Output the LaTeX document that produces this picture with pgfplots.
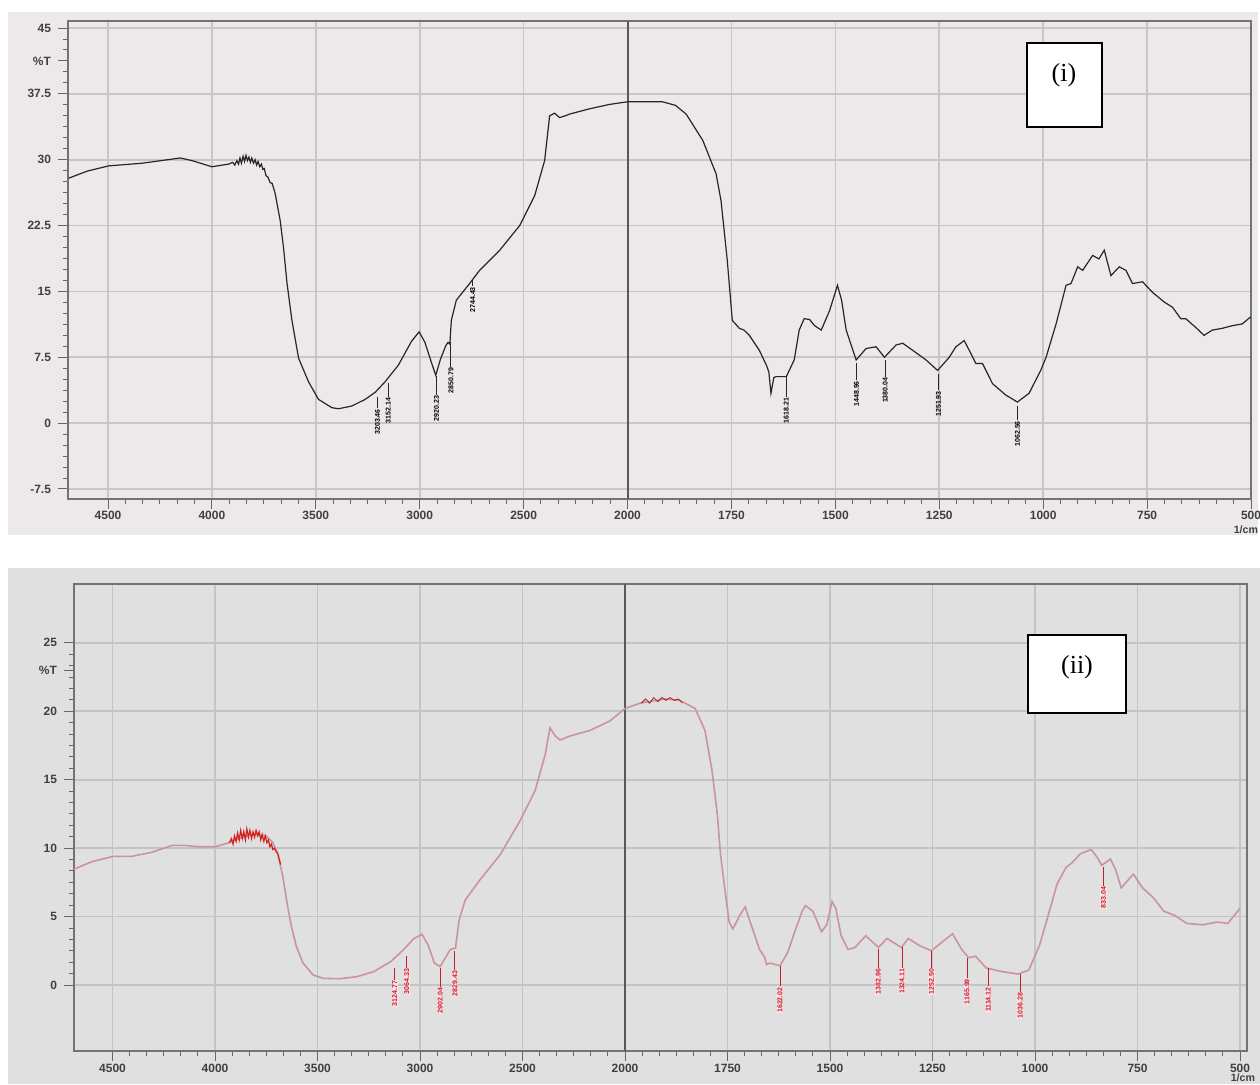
\documentclass[border=0pt]{standalone}
\usepackage{pgfplots}
\pgfplotsset{compat=1.18}
\usepackage{pgfplotstable}
\usepackage{fontspec}
\setmainfont{Liberation Serif}
\setsansfont{Liberation Sans}

\definecolor{bgA}{HTML}{EDE9EB}
\definecolor{bgB}{HTML}{E0E0E0}
\definecolor{gridA}{HTML}{C9C5C7}
\definecolor{gridB}{HTML}{C4C4C4}
\definecolor{specB}{HTML}{C9959D}
\definecolor{noiseB}{HTML}{D42020}
\definecolor{lblB}{HTML}{C02035}

% wavenumber -> axis position (500 cm-1 per unit above 2000, 250 cm-1 per unit below)
\newcommand{\ux}{(\thisrow{wn}>=2000 ? (2000-\thisrow{wn})/500 : (2000-\thisrow{wn})/250)}

\pgfplotstableread{
wn T
4689 27.9
4600 28.7
4497 29.3
4337 29.6
4152 30.2
4096 29.9
4000 29.2
3920 29.5
3900 29.7
3890 29.4
3880 29.9
3872 29.5
3865 30.2
3858 29.6
3850 30.4
3843 29.8
3836 30.5
3829 29.9
3822 30.3
3815 29.7
3808 30.2
3800 29.6
3792 30.0
3785 29.4
3778 29.8
3770 29.2
3762 29.5
3755 28.9
3748 29.0
3740 28.2
3730 28.0
3720 27.4
3710 27.3
3696 26.2
3671 23.0
3655 19.9
3639 16.0
3615 11.7
3583 7.4
3535 4.7
3487 2.7
3423 1.76
3391 1.64
3327 1.95
3263 2.7
3215 3.5
3167 4.7
3103 6.6
3040 9.3
3003 10.4
2975 9.2
2945 7.0
2923 5.45
2900 7.3
2875 8.8
2864 9.2
2855 9.0
2848 11.7
2824 14.0
2760 15.9
2712 17.4
2615 19.7
2519 22.5
2447 25.9
2399 29.9
2375 35.0
2351 35.3
2327 34.8
2300 35.0
2279 35.2
2183 35.8
2087 36.3
2000 36.6
1916 36.6
1885 36.2
1859 35.2
1819 32.2
1787 28.4
1775 25.3
1760 18.5
1748 11.7
1731 10.8
1720 10.6
1707 10.0
1683 8.3
1665 6.5
1660 5.8
1655 3.4
1648 5.2
1642 5.3
1618 5.3
1599 7.2
1587 10.6
1575 11.9
1562 11.8
1550 11.1
1534 10.6
1514 12.8
1495 15.7
1485 14.0
1474 10.6
1450 7.2
1426 8.5
1402 8.7
1382 7.5
1354 8.9
1338 9.1
1314 8.3
1282 7.2
1254 6.0
1226 7.5
1210 8.7
1190 9.4
1178 8.3
1162 6.8
1146 6.8
1122 4.5
1090 3.2
1062 2.4
1034 3.4
1006 6.0
993 7.5
969 11.3
945 15.7
933 15.9
917 17.8
905 17.4
881 19.1
866 18.7
853 19.7
837 16.8
817 17.8
801 17.4
785 15.9
761 16.1
737 14.9
709 13.8
689 13.2
669 11.9
657 11.9
633 10.9
613 10.0
593 10.6
569 10.8
545 11.1
521 11.3
501 12.1
}\specA

\pgfplotstableread{
wn T
4698 8.4
4603 9.0
4497 9.4
4406 9.4
4308 9.7
4210 10.2
4144 10.2
4079 10.1
4000 10.1
3931 10.4
3882 10.7
3816 11.0
3751 10.9
3718 10.4
3694 9.6
3669 7.9
3649 6.0
3628 4.3
3603 2.8
3571 1.6
3521 0.73
3472 0.49
3390 0.46
3308 0.61
3226 0.98
3144 1.7
3079 2.6
3030 3.4
2990 3.7
2960 2.9
2930 1.6
2902 1.35
2880 1.9
2852 2.6
2827 2.7
2810 4.7
2780 6.2
2707 7.7
2610 9.5
2512 12.0
2439 14.2
2390 16.8
2366 18.8
2341 18.2
2317 17.9
2268 18.2
2171 18.6
2073 19.3
2000 20.2
1963 20.6
1902 20.9
1866 20.8
1829 20.2
1805 18.6
1788 15.7
1775 12.5
1767 9.5
1754 6.4
1746 4.6
1737 4.1
1720 5.1
1707 5.7
1689 4.1
1672 2.6
1659 2.0
1655 1.5
1646 1.6
1622 1.4
1603 2.4
1586 3.9
1568 5.4
1560 5.8
1542 5.4
1521 3.9
1508 4.4
1495 6.1
1486 5.6
1473 3.6
1456 2.6
1439 2.75
1413 3.6
1382 2.75
1361 3.4
1326 2.75
1309 3.4
1283 2.9
1253 2.5
1222 3.25
1201 3.75
1179 2.6
1162 2.0
1145 2.1
1119 1.25
1084 1.0
1041 0.8
1015 1.1
989 2.9
963 5.6
946 7.4
924 8.6
911 8.9
889 9.6
863 9.9
850 9.4
837 8.75
816 9.2
803 8.4
790 7.1
760 8.1
738 7.1
712 6.4
686 5.4
660 5.1
630 4.5
591 4.4
556 4.6
530 4.5
500 5.6
}\specB

\pgfplotstableread{
wn T
3930 10.4
3920 10.7
3912 10.3
3905 10.9
3897 10.5
3890 11.1
3882 10.6
3875 11.3
3867 10.7
3860 11.2
3852 10.6
3845 11.4
3837 10.8
3830 11.3
3822 10.7
3815 11.2
3807 10.8
3800 11.3
3792 10.9
3785 11.2
3777 10.6
3770 11.0
3762 10.5
3755 10.9
3747 10.4
3740 10.6
3732 10.1
3725 10.3
3718 9.9
3710 10.0
3700 9.7
3694 9.6
3680 8.8
}\noiseBa

\pgfplotstableread{
wn T
1960 20.6
1950 20.9
1940 20.6
1930 21.0
1920 20.7
1910 21.0
1900 20.8
1890 21.0
1880 20.8
1870 20.9
1860 20.6
}\noiseBb

\newcommand{\tickfont}{\fontsize{6}{7}\selectfont\sffamily\bfseries}
\newcommand{\unitfont}{\fontsize{5.3}{6}\selectfont\sffamily\bfseries}
\newcommand{\pkfont}{\fontsize{3.5}{4}\selectfont\sffamily\bfseries}
% peak marker: u, top, end, label
\newcommand{\pkA}[4]{%
  \draw[black!85, line width=0.45pt] (axis cs:#1,#2) -- (axis cs:#1,#3);
  \node[rotate=90, anchor=east, inner sep=0.3pt, font=\pkfont, text=black] at (axis cs:#1,#3) {#4};}
\newcommand{\pkB}[4]{%
  \draw[lblB, line width=0.45pt] (axis cs:#1,#2) -- (axis cs:#1,#3);
  \node[rotate=90, anchor=east, inner sep=0.3pt, font=\pkfont, text=lblB, fill=pink!45] at (axis cs:#1,#3) {#4};}

\pgfplotsset{ftir/.style={
  scale only axis,
  xtick={-5,-4,-3,-2,-1,0,1,2,3,4,5,6},
  xticklabels={4500,4000,3500,3000,2500,2000,1750,1500,1250,1000,750,500},
  minor x tick num=5, minor y tick num=5,
  tick align=outside, major tick length=5pt, minor tick length=2.5pt,
  xtick pos=left, ytick pos=left,
  xmajorgrids, ymajorgrids,
  tick style={black!60, line width=0.5pt},
  ticklabel style={font=\tickfont, text=black!75},
  axis line style={black!55, line width=0.7pt},
}}

\begin{document}
\begin{tikzpicture}
\path[use as bounding box] (0,0) rectangle (630pt,542pt);
\fill[white] (0,0) rectangle (630pt,542pt);
\fill[bgA] (4pt,274.5pt) rectangle (629pt,536pt);
\fill[bgB] (4pt,0pt) rectangle (630pt,258pt);

% ---------- panel (i)
\begin{axis}[ftir,
  at={(34pt,292.5pt)}, anchor=south west,
  width=591.5pt, height=239pt,
  xmin=-5.385, xmax=6.0, ymin=-8.64, ymax=45.8,
  xticklabel style={yshift=2.5pt},
  ytick={-7.5,0,7.5,15,22.5,30,37.5,45},
  yticklabels={-7.5,0,7.5,15,22.5,30,37.5,45},
  extra y ticks={41.25}, extra y tick labels={\%T},
  extra y tick style={grid=none},
  major grid style={gridA, line width=0.8pt},
]
\draw[black!65, line width=1pt] (axis cs:0,-8.64) -- (axis cs:0,45.8);
\addplot[black!85, line width=0.6pt, no markers] table[x expr=\ux, y=T] {\specA};
\pkA{-2.406}{3.0}{1.7}{3203.46}
\pkA{-2.304}{4.6}{3.0}{3152.14}
\pkA{-1.84}{5.4}{3.2}{2920.23}
\pkA{-1.70}{9.2}{6.4}{2850.79}
\pkA{-1.49}{16.3}{15.6}{2744.43}
\pkA{1.528}{5.3}{3.0}{1618.21}
\pkA{2.204}{6.8}{4.9}{1448.96}
\pkA{2.48}{7.2}{5.3}{1380.04}
\pkA{2.992}{5.6}{3.75}{1251.93}
\pkA{3.752}{2.0}{0.34}{1062.56}
\end{axis}
\node[font=\unitfont, text=black!75, anchor=north east, inner sep=0.3pt] at (629.5pt,279.8pt) {1/cm};

% ---------- panel (ii)
\begin{axis}[ftir,
  at={(37pt,16.5pt)}, anchor=south west,
  width=586.5pt, height=233.5pt,
  xmin=-5.376, xmax=6.068, ymin=-4.82, ymax=29.3,
  xticklabel style={yshift=2pt},
  ytick={0,5,10,15,20,25},
  yticklabels={0,5,10,15,20,25},
  extra y ticks={23.0}, extra y tick labels={\%T},
  extra y tick style={grid=none},
  major grid style={gridB, line width=0.8pt},
]
\draw[black!65, line width=1pt] (axis cs:0,-4.82) -- (axis cs:0,29.3);
\addplot[specB, line width=0.8pt, no markers] table[x expr=\ux, y=T] {\specB};
\addplot[noiseB, line width=0.6pt, no markers] table[x expr=\ux, y=T] {\noiseBa};
\addplot[noiseB!80!black, line width=0.4pt, no markers] table[x expr=\ux, y=T] {\noiseBb};
\pkB{-2.248}{1.26}{0.38}{3124.77}
\pkB{-2.13}{2.14}{1.26}{3064.33}
\pkB{-1.804}{1.26}{-0.13}{2902.04}
\pkB{-1.66}{2.5}{1.1}{2829.43}
\pkB{1.512}{1.4}{-0.1}{1622.02}
\pkB{2.471}{2.6}{1.25}{1382.96}
\pkB{2.702}{2.75}{1.25}{1324.11}
\pkB{2.990}{2.5}{1.25}{1252.50}
\pkB{3.336}{2.0}{0.5}{1165.99}
\pkB{3.543}{1.25}{-0.1}{1114.12}
\pkB{3.855}{0.8}{-0.5}{1036.28}
\pkB{4.668}{8.6}{7.25}{833.04}
\end{axis}
\node[font=\unitfont, text=black!75, anchor=south east, inner sep=0.3pt] at (628pt,0.4pt) {1/cm};

% ---------- labels (i), (ii)
\draw[black, line width=0.8pt, fill=white] (513.5pt,478.5pt) rectangle (551pt,520.5pt);
\node[font=\fontsize{13}{15}\selectfont] at (532pt,504.5pt) {(i)};
\draw[black, line width=0.8pt, fill=white] (514pt,185.5pt) rectangle (563pt,224.5pt);
\node[font=\fontsize{13}{15}\selectfont] at (538.5pt,208.5pt) {(ii)};
\end{tikzpicture}
\end{document}
